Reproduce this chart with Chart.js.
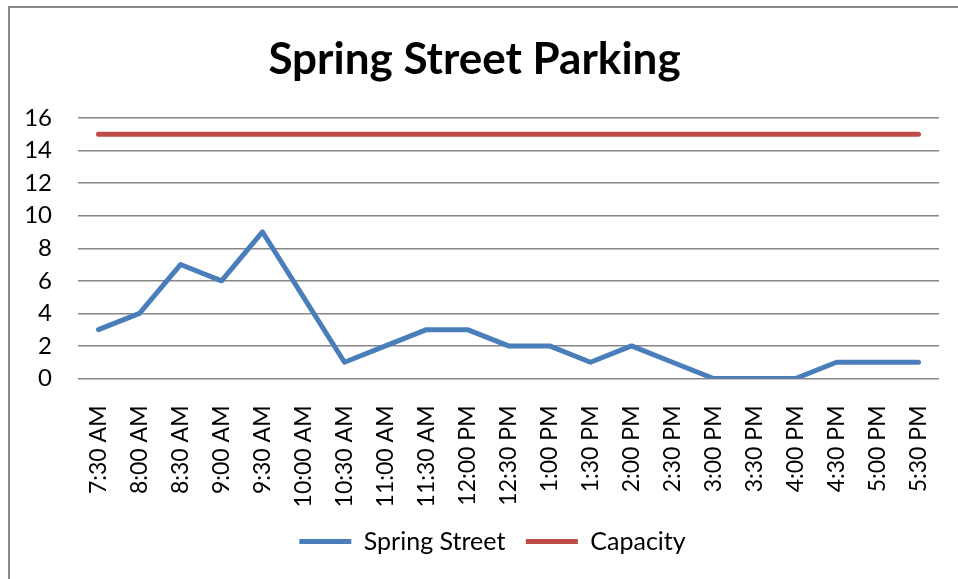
<!DOCTYPE html>
<html>
<head>
<meta charset="utf-8">
<title>Spring Street Parking</title>
<script src="https://cdn.jsdelivr.net/npm/chart.js@4"></script>
<style>
  html, body { margin: 0; padding: 0; background: #fff; overflow: hidden; }
  .frame {
    position: absolute; left: 8px; top: 6px;
    width: 950px; height: 580px;
    border-left: 2px solid #898989; border-top: 2px solid #898989;
  }
  .box { position: relative; width: 948px; height: 556px; }
</style>
</head>
<body>
<div class="frame"><div class="box"><canvas id="parkingChart"></canvas></div></div>
<script>
const times = ['7:30 AM', '8:00 AM', '8:30 AM', '9:00 AM', '9:30 AM', '10:00 AM', '10:30 AM',
    '11:00 AM', '11:30 AM', '12:00 PM', '12:30 PM', '1:00 PM', '1:30 PM', '2:00 PM', '2:30 PM',
    '3:00 PM', '3:30 PM', '4:00 PM', '4:30 PM', '5:00 PM', '5:30 PM'];
const springStreet = [3, 4, 7, 6, 9, 5, 1, 2, 3, 3, 2, 2, 1, 2, 1, 0, 0, 0, 1, 1, 1];
const capacity = [15, 15, 15, 15, 15, 15, 15, 15, 15, 15, 15, 15, 15, 15, 15, 15, 15, 15, 15, 15, 15];
const yTicks = [0, 2, 4, 6, 8, 10, 12, 14, 16];

Chart.defaults.font.family = 'Lato, "Open Sans", sans-serif';
Chart.defaults.color = '#000';

// nudge the legend a little to the right, like the original
const legendShift = {
    id: 'legendShift',
    afterLayout(chart) {
        chart.legend.left += 18;
        chart.legend.right += 18;
    }
};

const ctx = document.getElementById('parkingChart').getContext('2d');
window.myChart = new Chart(ctx, {
    type: 'line',
    data: {
        labels: times,
        datasets: [{
            label: 'Spring Street',
            data: springStreet,
            borderColor: '#4A7EBB',
            backgroundColor: '#4A7EBB',
            borderWidth: 5,
            borderCapStyle: 'round',
            borderJoinStyle: 'round',
            pointRadius: 0,
            tension: 0
        }, {
            label: 'Capacity',
            data: capacity,
            borderColor: '#BE4B48',
            backgroundColor: '#BE4B48',
            borderWidth: 5,
            borderCapStyle: 'round',
            pointRadius: 0,
            tension: 0
        }]
    },
    options: {
        responsive: true,
        maintainAspectRatio: false,
        animation: false,
        layout: { padding: { top: 0, right: 19, bottom: 0, left: 0 } },
        plugins: {
            title: {
                display: true,
                text: 'Spring Street Parking',
                font: { size: 44, weight: 'bold' },
                padding: { top: 25.6, bottom: 31.6 }
            },
            legend: {
                position: 'bottom',
                labels: {
                    font: { size: 25 },
                    usePointStyle: true,
                    pointStyle: 'line',
                    pointStyleWidth: 52,
                    padding: 20.5
                }
            },
            tooltip: { enabled: false }
        },
        scales: {
            x: {
                offset: true,
                grid: { display: false },
                border: { display: false },
                ticks: {
                    autoSkip: false,
                    minRotation: 90,
                    maxRotation: 90,
                    padding: 19,
                    font: { size: 23 }
                },
                afterFit: function(scale) {
                    scale.height = 130;
                    scale.paddingLeft = 0;
                    scale.paddingRight = 0;
                }
            },
            y: {
                min: 0,
                max: 16,
                afterBuildTicks: function(scale) { scale.ticks = yTicks.map(v => ({ value: v })); },
                grid: { color: '#868686', lineWidth: 1.5, drawTicks: false },
                border: { display: false },
                ticks: { padding: 26, font: { size: 24 } },
                afterFit: function(scale) { scale.width = 68; }
            }
        }
    },
    plugins: [legendShift]
});
</script>
</body>
</html>
